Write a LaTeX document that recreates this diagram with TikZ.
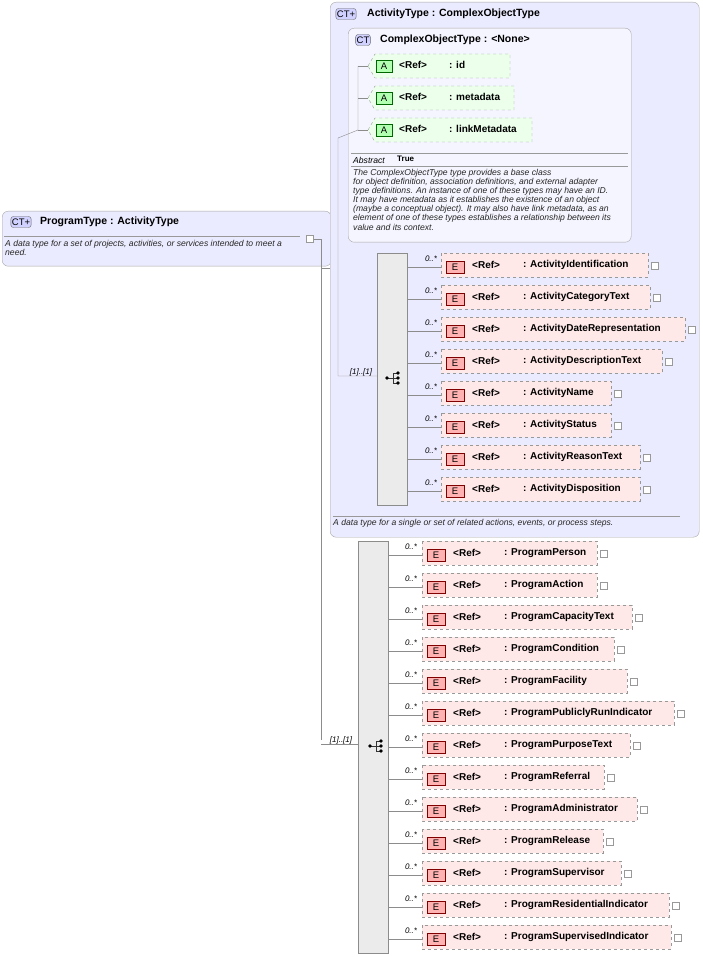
\documentclass[tikz,border=0pt]{standalone}
\usepackage{fontspec}
\setmainfont{Liberation Sans}
\begin{document}
\begin{tikzpicture}[x=1pt,y=-1pt,
  ctbox/.style={draw=black!35,rounded corners=6pt,fill=blue!8},
  title/.style={anchor=west,font=\fontsize{10.5}{11}\selectfont\bfseries,inner sep=0},
  desc/.style={anchor=north west,font=\fontsize{8.6}{9.1}\selectfont\itshape,inner sep=0,align=left,text=black!85},
  badge/.style={draw=black!60,rounded corners=2.5pt,fill=blue!18,font=\fontsize{9.5}{9.5}\selectfont,inner sep=1pt,minimum height=11pt},
  ebox/.style={draw=black!40,dashed,fill=red!9},
  ebadge/.style={draw=red!50!black,fill=red!30,font=\fontsize{9.5}{9.5}\selectfont,minimum width=18pt,minimum height=12pt,inner sep=0},
  abox/.style={draw=black!40,dashed,fill=green!8},
  lbl/.style={anchor=west,font=\fontsize{10}{11}\selectfont\bfseries,inner sep=0},
  occ/.style={font=\fontsize{8}{8}\selectfont\itshape,inner sep=0},
  plus/.style={draw=black!40,fill=white,minimum size=7pt,inner sep=0},
  conn/.style={draw=black!45},
  seq/.style={draw=black!45,fill=black!8},
  icon/.pic={\draw[black!80] (-6,0) -- (0,0) (0,-5) -- (0,5) (0,-5) -- (5,-5) (0,0) -- (5,0) (0,5) -- (5,5);
    \foreach \yy in {-5,0,5} \fill (5,\yy) circle (1.8);
    \fill (-6,0) circle (1.8);}]
\useasboundingbox (0,0) rectangle (703,957);
% ProgramType
\node[ctbox,minimum width=329pt,minimum height=55pt,anchor=north west,inner sep=0] (pt) at (2,211) {};
\node[badge] (ptb) at (21,222) {CT+};
\node[title] (ptt) at (40,222) {ProgramType : ActivityType};
\draw[black!40] (4,236) -- (300,236);
\node[desc] (ptd) at (5,240) {A data type for a set of projects, activities, or services intended to meet a\\need.};
\node[plus] (ptm) at (310,239) {};
\coordinate (j1) at (321,239);
\draw[conn] (ptm) -- (j1) -- (321,740);
\draw[conn] (321,268) -- (330,268);
% ActivityType
\node[ctbox,minimum width=369pt,minimum height=535pt,anchor=north west,inner sep=0] (at) at (330,2) {};
\node[badge] (atb) at (346,14) {CT+};
\node[title] (att) at (367,14) {ActivityType : ComplexObjectType};
\draw[black!40] (333,516) -- (680,516);
\node[desc] (atd) at (333,519) {A data type for a single or set of related actions, events, or process steps.};
% ComplexObjectType
\node[ctbox,fill=blue!4,minimum width=283pt,minimum height=214pt,anchor=north west,inner sep=0] (co) at (348,28) {};
\node[badge] (cob) at (363,40) {CT};
\node[title] (cot) at (380,40) {ComplexObjectType : <None>};
\foreach \y/\w/\n in {54/142/id,86/146/metadata,118/164/linkMetadata}{
  \draw[abox] (368,\y+12) -- (375,\y) -- (368+\w,\y) -- (368+\w,\y+24) -- (375,\y+24) -- cycle;
  \node[ebadge,draw=green!40!black,fill=green!30,minimum width=16pt] at (384,\y+12) {A};
  \node[lbl] at (399,\y+11) {<Ref>};
  \node[lbl] at (449,\y+11) {: \n};
  \draw[conn] (358,\y+12) -- (368,\y+12);
}
\draw[conn] (358,66) -- (358,130) -- (338,138) -- (338,376) -- (377,376);
\draw[black!40] (351,153) -- (628,153);
\node[anchor=west,font=\fontsize{8.6}{9}\selectfont\itshape,inner sep=0] at (353,160) {Abstract};
\node[anchor=west,font=\fontsize{8}{9}\selectfont\bfseries,inner sep=0] at (397,159) {True};
\draw[black!40] (351,166) -- (628,166);
\node[desc] at (353,169) {The ComplexObjectType type provides a base class\\for object definition, association definitions, and external adapter\\type definitions. An instance of one of these types may have an ID.\\It may have metadata as it establishes the existence of an object\\(maybe a conceptual object). It may also have link metadata, as an\\element of one of these types establishes a relationship between its\\value and its context.};
% Activity sequence
\node[seq,minimum width=30pt,minimum height=252pt,anchor=north west,inner sep=0] (s1) at (377,253) {};
\node[occ] at (361,372) {[1]..[1]};
\pic at (393,378) {icon};
\foreach \i/\n/\r in {0/ActivityIdentification/648,1/ActivityCategoryText/650,2/ActivityDateRepresentation/685,3/ActivityDescriptionText/662,4/ActivityName/611,5/ActivityStatus/611,6/ActivityReasonText/640,7/ActivityDisposition/640}{
  \pgfmathsetmacro\y{253+32*\i}
  \draw[ebox] (441,\y) rectangle (\r,\y+24);
  \node[ebadge] at (455,\y+14) {E};
  \node[lbl] at (472,\y+12) {<Ref>};
  \node[lbl] at (523,\y+12) {: \n};
  \node[plus] at (\r+7,\y+13) {};
  \draw[conn] (407,\y+14) -- (441,\y+14);
  \node[occ] at (431,\y+6) {0..*};
}
% Program sequence
\node[seq,minimum width=30pt,minimum height=412pt,anchor=north west,inner sep=0] (s2) at (358,541) {};
\draw[conn] (321,744) -- (358,744);
\node[occ] at (341,740) {[1]..[1]};
\pic at (376,746) {icon};
\foreach \i/\n/\r in {0/ProgramPerson/597,1/ProgramAction/597,2/ProgramCapacityText/632,3/ProgramCondition/614,4/ProgramFacility/627,5/ProgramPubliclyRunIndicator/674,6/ProgramPurposeText/630,7/ProgramReferral/604,8/ProgramAdministrator/637,9/ProgramRelease/603,10/ProgramSupervisor/621,11/ProgramResidentialIndicator/669,12/ProgramSupervisedIndicator/671}{
  \pgfmathsetmacro\y{541+32*\i}
  \draw[ebox] (422,\y) rectangle (\r,\y+24);
  \node[ebadge] at (436,\y+14) {E};
  \node[lbl] at (453,\y+12) {<Ref>};
  \node[lbl] at (504,\y+12) {: \n};
  \node[plus] at (\r+7,\y+13) {};
  \draw[conn] (388,\y+14) -- (422,\y+14);
  \node[occ] at (411,\y+6) {0..*};
}
\end{tikzpicture}
\end{document}
